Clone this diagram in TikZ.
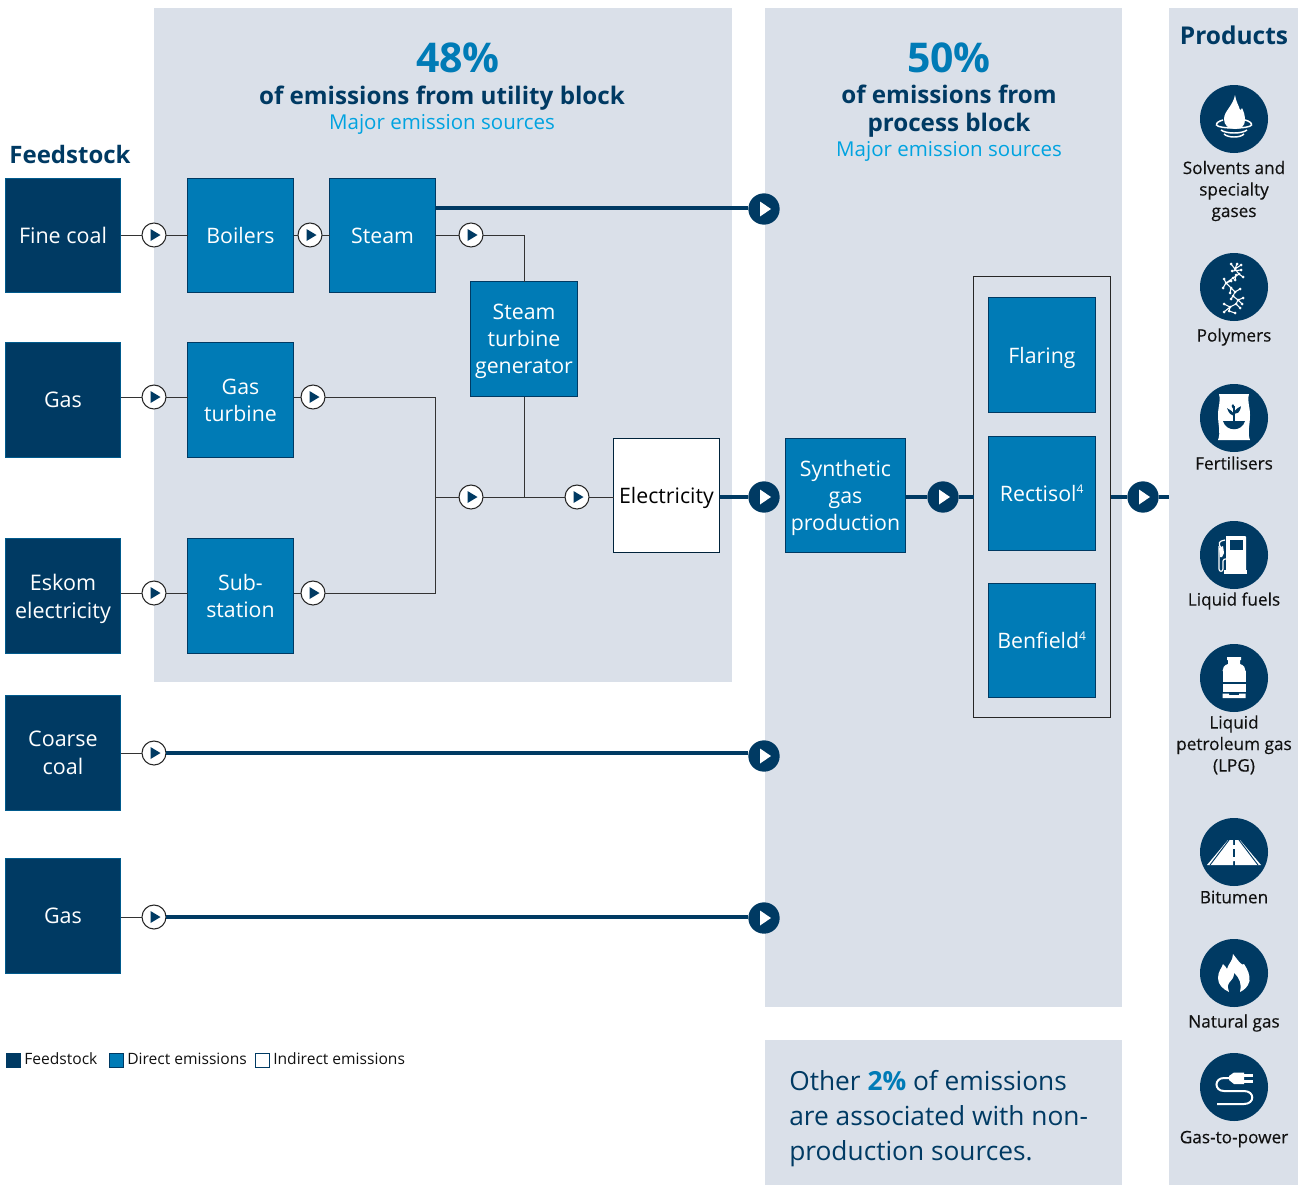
\documentclass[tikz,border=0pt]{standalone}
\usepackage{fontspec}
\setmainfont{Open Sans}
\newfontfamily\medf[FakeBold=0.35]{Open Sans}
\usetikzlibrary{calc}
\definecolor{navy}{HTML}{003A63}
\definecolor{midblue}{HTML}{007BB6}
\definecolor{cyanb}{HTML}{00A3E0}
\definecolor{panel}{HTML}{DAE0E9}
\definecolor{ink}{HTML}{111111}
\newcommand\pxf[2]{\fontsize{\dimexpr#1pt*3/4\relax}{\dimexpr#2pt*3/4\relax}\selectfont}
\newcommand\bx[7]{%
  \pgfmathsetmacro\cxv{(#3+#5)/2}\pgfmathsetmacro\cyv{(#4+#6)/2}%
  \pgfmathsetmacro\wv{(#5-#3)*0.75}\pgfmathsetmacro\hv{(#6-#4)*0.75}%
  \node[#2,minimum width=\wv pt,minimum height=\hv pt] (#1) at (\cxv,\cyv) {#7};}
\tikzset{
  x=0.75pt,y=-0.75pt,
  panelbox/.style={fill=panel,draw=none,inner sep=0,outer sep=0},
  feed/.style={fill=navy,draw=midblue!50!navy,line width=.5pt,text=white,align=center,inner sep=0,outer sep=0,text depth=-1pt,font=\pxf{21.5}{28}},
  direct/.style={fill=midblue,draw=navy,line width=.6pt,text=white,align=center,inner sep=0,outer sep=0,text depth=-1pt,font=\pxf{21.3}{27}},
  indirect/.style={fill=white,draw=navy!60!black,line width=.6pt,text=black,align=center,inner sep=0,outer sep=0,text depth=-1pt,font=\pxf{21.3}{27}},
  groupbox/.style={fill=none,draw=black!85,line width=.6pt,inner sep=0,outer sep=0},
  thin link/.style={draw=black!80,line width=.75pt},
  thick link/.style={draw=navy,line width=2.5pt},
  smallc/.style={circle,fill=white,draw=black!85,line width=.8pt,minimum size=18pt,inner sep=0,outer sep=0},
  bigc/.style={circle,fill=navy,draw=none,minimum size=23.5pt,inner sep=0,outer sep=0},
  iconc/.style={circle,fill=navy,draw=none,minimum size=51pt,inner sep=0,outer sep=0},
  prod/.style={text=ink,align=center,inner sep=0,text depth=-1.5pt,font=\medf\pxf{17.2}{21.5}},
  legbox/.style={inner sep=0,outer sep=0,minimum size=10.5pt,line width=.6pt,draw=navy},
  legtext/.style={anchor=west,inner sep=0,text=ink,text depth=0pt,text height=8.5pt,font=\pxf{15.6}{20}},
  headtitle/.style={text=navy,align=center,inner sep=0,text depth=0pt,font=\pxf{24.2}{28}\bfseries},
  headpct/.style={text=midblue,inner sep=0,font=\pxf{41}{44}\bfseries},
  headsub/.style={text=cyanb,inner sep=0,text depth=0pt,font=\pxf{20.5}{26}},
  iconw/.style={fill=white,draw=none},
  iconl/.style={draw=white,fill=none,line width=1pt},
}
\newcommand\playS[1]{\fill[navy] ($(#1)+(-3.5,-6)$) -- ($(#1)+(6.5,0)$) -- ($(#1)+(-3.5,6)$) -- cycle;}
\newcommand\playB[1]{\fill[white] ($(#1)+(-4,-7.5)$) -- ($(#1)+(7,0)$) -- ($(#1)+(-4,7.5)$) -- cycle;}
\begin{document}
\begin{tikzpicture}
\useasboundingbox (0,0) rectangle (1303,1185);
% panels
\bx{pU}{panelbox}{154}{7.5}{732}{682}{}
\bx{pP}{panelbox}{764.5}{7.5}{1122}{1007}{}
\bx{pO}{panelbox}{765}{1040}{1122}{1185}{}
\bx{pR}{panelbox}{1169}{7.5}{1298}{1185}{}
% headings
\node[headpct] (h48) at (458,58) {48\%};
\node[headtitle] (h48t) at (442,95) {of emissions from utility block};
\node[headsub] (h48s) at (442,122) {Major emission sources};
\node[headpct] (h50) at (949,58) {50\%};
\node[headtitle] (h50t) at (949,108) {of emissions from\\process block};
\node[headsub] (h50s) at (949,149) {Major emission sources};
\node[text=navy,inner sep=0,font=\pxf{24}{28}\bfseries] (hfeed) at (70,154) {Feedstock};
\node[text=navy,inner sep=0,font=\pxf{24.5}{28}\bfseries] (hprod) at (1234,35) {Products};
% junctions
\coordinate (jS) at (524,235);
\coordinate (jM) at (524,497);
\coordinate (jT) at (435,397);
\coordinate (jB) at (435,593);
\coordinate (jL) at (435,497);
\coordinate (endR) at (1169,497);
\coordinate (yS) at (0,208);
\bx{gb}{groupbox}{973.5}{276.5}{1110.5}{717.5}{}
\bx{fine}{feed}{5.5}{178.5}{120.5}{292.5}{Fine coal}
\bx{gasA}{feed}{5.5}{342.5}{120.5}{457.5}{Gas}
\bx{esk}{feed}{5.5}{538.5}{120.5}{653.5}{Eskom\\electricity}
\bx{coarse}{feed}{5.5}{695.5}{120.5}{810.5}{Coarse\\coal}
\bx{gasB}{feed}{5.5}{858.5}{120.5}{973.5}{Gas}
\bx{boil}{direct}{187.5}{178.5}{293.5}{292.5}{Boilers}
\bx{steam}{direct}{329.5}{178.5}{435.5}{292.5}{Steam}
\bx{stg}{direct}{470.5}{281.5}{577.5}{396.5}{Steam\\turbine\\generator}
\bx{gt}{direct}{187.5}{342.5}{293.5}{457.5}{Gas\\turbine}
\bx{sub}{direct}{187.5}{538.5}{293.5}{653.5}{Sub-\\station}
\bx{elec}{indirect}{613.5}{438.5}{719.5}{552.5}{Electricity}
\bx{syn}{direct}{785.5}{438.5}{905.5}{552.5}{Synthetic\\gas\\production}
\bx{flar}{direct}{988.5}{297.5}{1095.5}{412.5}{Flaring}
\bx{rect}{direct}{988.5}{436.5}{1095.5}{550.5}{Rectisol\textsuperscript{\pxf{12}{12}4}}
\bx{benf}{direct}{988.5}{583.5}{1095.5}{697.5}{Benfield\textsuperscript{\pxf{12}{12}4}}
% flow circles
\node[smallc] (s1) at (154,235) {};
\node[smallc] (s2) at (310,235) {};
\node[smallc] (s3) at (471,235) {};
\node[smallc] (s4) at (154,397) {};
\node[smallc] (s5) at (313,397) {};
\node[smallc] (s6) at (471,497) {};
\node[smallc] (s7) at (577,497) {};
\node[smallc] (s8) at (154,593) {};
\node[smallc] (s9) at (313,593) {};
\node[smallc] (s10) at (154,753) {};
\node[smallc] (s11) at (154,917) {};
\node[bigc] (b1) at (764,209) {};
\node[bigc] (b2) at (764,497) {};
\node[bigc] (b3) at (943,497) {};
\node[bigc] (b4) at (1143,497) {};
\node[bigc] (b5) at (764,756) {};
\node[bigc] (b6) at (764,918) {};
% connectors
\draw[thin link] (fine.east |- s1) -- (s1);
\draw[thin link] (s1) -- (boil.west |- s1);
\draw[thin link] (boil.east |- s2) -- (s2);
\draw[thin link] (s2) -- (steam.west |- s2);
\draw[thin link] (steam.east |- s3) -- (s3);
\draw[thin link] (s3) -- (jS) -- (stg.north);
\draw[thin link] (stg.south) -- (jM);
\draw[thin link] (gasA.east |- s4) -- (s4);
\draw[thin link] (s4) -- (gt.west |- s4);
\draw[thin link] (gt.east |- s5) -- (s5);
\draw[thin link] (s5) -- (jT) -- (jB) -- (s9);
\draw[thin link] (esk.east |- s8) -- (s8);
\draw[thin link] (s8) -- (sub.west |- s8);
\draw[thin link] (sub.east |- s9) -- (s9);
\draw[thin link] (jL) -- (s6);
\draw[thin link] (s6) -- (s7);
\draw[thin link] (s7) -- (elec.west |- s7);
\draw[thin link] (coarse.east |- s10) -- (s10);
\draw[thin link] (gasB.east |- s11) -- (s11);
\draw[thick link] (steam.east |- yS) -- (b1.west |- yS);
\draw[thick link] (s10) -- (b5.west |- s10);
\draw[thick link] (s11) -- (b6.west |- s11);
\draw[thick link] (elec.east |- b2) -- (b2);
\draw[thick link] (syn.east |- b3) -- (b3);
\draw[thick link] (b3) -- (gb.west |- b3);
\draw[thick link] (gb.east |- b4) -- (b4);
\draw[thick link] (b4) -- (endR);
\foreach \n in {s1,s2,s3,s4,s5,s6,s7,s8,s9,s10,s11}{\playS{\n}}
\foreach \n in {b1,b2,b3,b4,b5,b6}{\playB{\n}}
% product icons
\node[iconc] (i1) at (1234,119) {};
\node[iconc] (i2) at (1234,287) {};
\node[iconc] (i3) at (1234,418) {};
\node[iconc] (i4) at (1234,555) {};
\node[iconc] (i5) at (1234,678) {};
\node[iconc] (i6) at (1234,852) {};
\node[iconc] (i7) at (1234,973) {};
\node[iconc] (i8) at (1234,1087) {};
% flame and dish
\begin{scope}[shift={(i1)}]
\fill[iconw] (1,-24) .. controls (2,-17) and (5,-13) .. (6,-9) .. controls (6.5,-9) and (8,-10) .. (8,-11) .. controls (10,-7) and (11,-3) .. (11,1) .. controls (11,7) and (7,10) .. (1,10) .. controls (-6,10) and (-10,6) .. (-10,0) .. controls (-10,-8) and (-1,-13) .. (1,-24) -- cycle;
\draw[iconl,line width=1.1pt] (-11,1) .. controls (-15,2) and (-18,4) .. (-17.5,6) .. controls (-16,10) and (16,10) .. (17.5,6) .. controls (18,4) and (15,2) .. (11,1);
\draw[iconl,line width=1.1pt] (-13,11) .. controls (-8,15) and (8,15) .. (13,11);
\draw[iconl,line width=1.1pt] (-10,15) .. controls (-6,19) and (6,19) .. (10,15);
\end{scope}
% polymers
\begin{scope}[shift={(i2)}]
\draw[iconl,line width=.8pt] (3,-23) -- (1,-18) -- (5,-13) -- (-1,-9) -- (-8,-4) -- (-3,1) -- (1,5) -- (-1,9) -- (4,13) -- (2,17) -- (-4,20) -- (-5,24)
 (-3,-23) -- (1,-18) -- (7,-22) (-2,-16) -- (7,-17) (5,-13) -- (9,-10) (2,-12) -- (1,-7) (-10,-8) -- (-8,-4) -- (-11,1) (-8,-4) -- (-3,-6) (-3,1) -- (-4,6) (1,5) -- (6,2) (-1,9) -- (-3,12) (4,13) -- (9,11) (4,13) -- (8,17) (2,17) -- (6,21) (-4,20) -- (-10,17) (-4,20) -- (-10,25) (-5,24) -- (1,26);
\foreach \p in {(3,-23),(-3,-23),(7,-22),(1,-18),(-2,-16),(7,-17),(5,-13),(9,-10),(2,-12),(1,-7),(-1,-9),(-10,-8),(-8,-4),(-11,1),(-3,-6),(-3,1),(-4,6),(1,5),(6,2),(-1,9),(-3,12),(4,13),(9,11),(8,17),(2,17),(6,21),(-4,20),(-10,17),(-10,25),(-5,24),(1,26)}
  \fill[white] \p circle[radius=1.5];
\end{scope}
% fertiliser bag
\begin{scope}[shift={(i3)}]
\fill[iconw] (-15,-24) -- (15,-24) .. controls (13,-16) and (16,-12) .. (16,-3) .. controls (16,8) and (13,14) .. (16,22) -- (-16,22) .. controls (-13,14) and (-16,8) .. (-16,-3) .. controls (-16,-12) and (-13,-16) .. (-15,-24) -- cycle;
\fill[navy] (-11,3) .. controls (-8,14) and (8,14) .. (11,3) -- cycle;
\draw[navy,line width=1pt] (0,6) -- (0,-12);
\fill[navy] (0,-4) .. controls (-3,-9) and (-7,-9) .. (-7,-10) .. controls (-5,-4) and (-3,-3) .. (0,-2) -- cycle;
\fill[navy] (0,-6) .. controls (3,-11) and (7,-11) .. (7,-12) .. controls (6,-5) and (3,-4) .. (0,-4) -- cycle;
\fill[navy] (0,-8) .. controls (-3,-12) and (-3,-13) .. (-1,-14) .. controls (1,-13) and (1,-10) .. (0,-8) -- cycle;
\end{scope}
% fuel pump
\begin{scope}[shift={(i4)}]
\fill[iconw] (-8,-19) -- (11,-19) .. controls (11.5,-19) and (12,-18.5) .. (12,-18) -- (12,15) -- (-8,15) -- cycle;
\fill[iconw] (-10,15) -- (13,15) -- (13,19) -- (-10,19) -- cycle;
\fill[navy] (-4,-15) -- (9,-15) -- (9,-5) -- (-4,-5) -- cycle;
\draw[iconl,line width=.9pt] (-12,-6) .. controls (-17,-12) and (-15,-14) .. (-9,-15);
\draw[iconl,line width=.9pt] (-15,-9) -- (-15,14) .. controls (-15,17) and (-11,17) .. (-11,14) -- (-11,6) .. controls (-11,4) and (-9,4) .. (-8,4);
\fill[iconw] (-15,-7) -- (-11,-9) -- (-10,-2) -- (-12,2) -- (-14,2) -- cycle;
\end{scope}
% LPG cylinder
\begin{scope}[shift={(i5)}]
\fill[iconw] (-7,-21) -- (7,-21) -- (7,-18) -- (6,-18) -- (6,-14) .. controls (10,-13) and (11.5,-10) .. (11.5,-7) -- (-11.5,-7) .. controls (-11.5,-10) and (-10,-13) .. (-6,-14) -- (-6,-18) -- (-7,-18) -- cycle;
\fill[iconw] (-11.5,-7) -- (11.5,-7) -- (11.5,4) -- (-11.5,4) -- cycle;
\fill[iconw] (-11.5,5.5) -- (11.5,5.5) -- (11.5,14) -- (-11.5,14) -- cycle;
\fill[iconw] (-11.5,15.5) -- (-5,15.5) -- (-5,17) -- (5,17) -- (5,15.5) -- (11.5,15.5) -- (11.5,20) -- (-11.5,20) -- cycle;
\end{scope}
% road
\begin{scope}[shift={(i6)}]
\fill[iconw] (-6,-12) -- (-1,-12) -- (-1,-7) -- (1,-7) -- (1,-12) -- (6,-12) -- (27,13) -- (1,13) -- (1,9) -- (-1,9) -- (-1,13) -- (-27,13) -- cycle;
\fill[navy] (-1,-3) -- (1,-3) -- (1,5) -- (-1,5) -- cycle;
\draw[navy,line width=.7pt] (-5,-12) -- (-24,13) (5,-12) -- (24,13);
\end{scope}
% fire
\begin{scope}[shift={(i7)}]
\fill[iconw] (-1,-19) .. controls (6,-10) and (8,-7) .. (10,-9) .. controls (14,-3) and (16,2) .. (15.5,8) .. controls (14,14) and (10,17) .. (6,19) .. controls (8,12) and (6,5) .. (0,0) .. controls (0,5) and (-2,6) .. (-5,10) .. controls (-7,13) and (-6,16) .. (-5,19) .. controls (-11,16) and (-16,12) .. (-16,5) .. controls (-16,-2) and (-12,-5) .. (-11,-9) .. controls (-9,-7) and (-8,-6) .. (-7,-4) .. controls (-6,-9) and (-1,-12) .. (-1,-19) -- cycle;
\end{scope}
% plug
\begin{scope}[shift={(i8)}]
\draw[iconl,line width=1.5pt] (-17,17) -- (10,17) .. controls (21,17) and (21,4) .. (10,4) -- (-10,4) .. controls (-20,4) and (-20,-9) .. (-10,-9) -- (-5,-9);
\fill[iconw] (-5,-11) -- (0,-14.5) -- (10,-14.5) -- (10,-3) -- (0,-3) -- (-5,-7) -- cycle;
\fill[iconw] (10,-13.5) -- (19,-13.5) -- (19,-10.5) -- (10,-10.5) -- cycle;
\fill[iconw] (10,-7.5) -- (19,-7.5) -- (19,-4.5) -- (10,-4.5) -- cycle;
\end{scope}
% product labels
\node[prod] (t1) at (1234,189) {Solvents and\\specialty\\gases};
\node[prod] (t2) at (1234,335) {Polymers};
\node[prod] (t3) at (1234,463) {Fertilisers};
\node[prod] (t4) at (1234,599) {Liquid fuels};
\node[prod] (t5) at (1234,743.5) {Liquid\\petroleum gas\\(LPG)};
\node[prod] (t6) at (1234,897) {Bitumen};
\node[prod] (t7) at (1234,1021) {Natural gas};
\node[prod] (t8) at (1234,1137) {Gas-to-power};
% legend
\node[legbox,fill=navy] (l1) at (13,1060) {};
\node[legtext] (lt1) at (24,1059) {Feedstock};
\node[legbox,fill=midblue] (l2) at (116,1060) {};
\node[legtext] (lt2) at (127,1059) {Direct emissions};
\node[legbox,fill=white] (l3) at (262,1060) {};
\node[legtext] (lt3) at (273,1059) {Indirect emissions};
% other note
\node[anchor=west,align=left,text=navy,inner sep=0,text depth=0pt,font=\pxf{26.3}{35}] (note) at (789,1115) {Other {\color{midblue}\bfseries 2\%} of emissions\\are associated with non-\\production sources.};
\end{tikzpicture}
\end{document}
